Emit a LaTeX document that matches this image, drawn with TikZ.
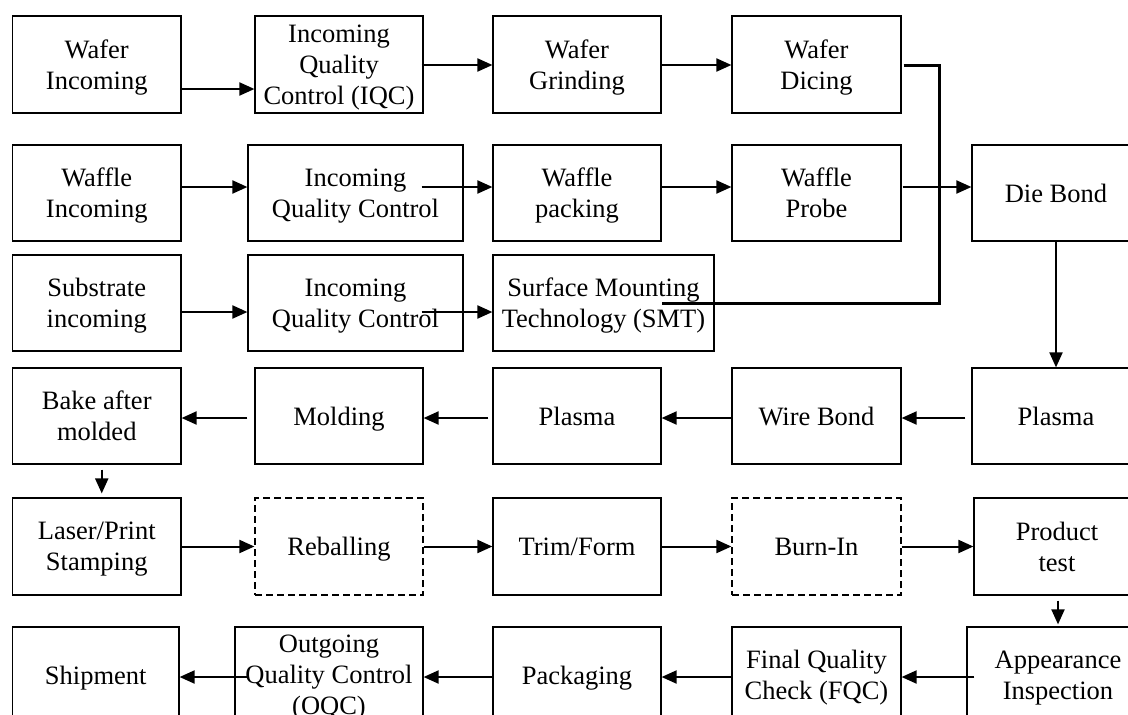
\documentclass[tikz,border=0pt]{standalone}
\usepackage{fontspec}
\setmainfont{Liberation Serif}
\usetikzlibrary{arrows.meta,calc}

% \flowbox[style]{name}{left}{top}{right}{bottom}{text}
\newcommand\flowbox[7][]{%
  \node[box,#1,minimum width={#5-#3},minimum height={#6-#4}] (#2)
    at ({(#3+#5)/2},{(#4+#6)/2}) {#7};}

\begin{document}
\begin{tikzpicture}[x=1pt,y=-1pt,
  box/.style={draw,line width=1.2pt,inner sep=0pt,align=center,
              text depth=-3pt,
              font=\fontsize{26.5}{31}\selectfont},
  optional/.style={dash pattern=on 7pt off 4pt},
  arr/.style={line width=2pt,-{Triangle[length=15pt,width=13pt]}},
  link/.style={line width=3pt}]
\useasboundingbox (0,0) rectangle (1128,715);
\fill[white] (0,0) rectangle (1128,715);
\clip (0,0) rectangle (1128,715);

% row 1
\flowbox{w1}{12.5}{16}{181}{113}{Wafer\\Incoming}
\flowbox{iqc1}{255}{16}{423}{113}{Incoming\\Quality\\Control (IQC)}
\flowbox{grind}{493}{16}{661}{113}{Wafer\\Grinding}
\flowbox{dice}{732}{16}{901}{113}{Wafer\\Dicing}
% row 2
\flowbox{wi2}{12.5}{145}{181}{241}{Waffle\\Incoming}
\flowbox{iqc2}{248}{145}{463}{241}{Incoming\\Quality Control}
\flowbox{pack}{493}{145}{661}{241}{Waffle\\packing}
\flowbox{probe}{732}{145}{901}{241}{Waffle\\Probe}
\flowbox{die}{972}{145}{1140}{241}{Die Bond}
% row 3
\flowbox{sub}{12.5}{255}{181}{351}{Substrate\\incoming}
\flowbox{iqc3}{248}{255}{463}{351}{Incoming\\Quality Control}
\flowbox{smt}{493}{255}{714}{351}{Surface Mounting\\Technology (SMT)}
% row 4
\flowbox{bake}{12.5}{368}{181}{464}{Bake after\\molded}
\flowbox{mold}{255}{368}{423}{464}{Molding}
\flowbox{pl2}{493}{368}{661}{464}{Plasma}
\flowbox{wb}{732}{368}{901}{464}{Wire Bond}
\flowbox{pl1}{972}{368}{1140}{464}{Plasma}
% row 5
\flowbox{laser}{12.5}{498}{181}{595}{Laser/Print\\Stamping}
\flowbox[optional]{reb}{255}{498}{423}{595}{Reballing}
\flowbox{trim}{493}{498}{661}{595}{Trim/Form}
\flowbox[optional]{burn}{732}{498}{901}{595}{Burn-In}
\flowbox{prod}{974}{498}{1140}{595}{Product\\test}
% row 6
\flowbox{ship}{12.5}{627}{179}{723}{Shipment}
\flowbox{oqc}{235}{627}{423}{723}{Outgoing\\Quality Control\\(OQC)}
\flowbox{pkg}{493}{627}{661}{723}{Packaging}
\flowbox{fqc}{732}{627}{901}{723}{Final Quality\\Check (FQC)}
\flowbox{app}{967}{627}{1149}{723}{Appearance\\Inspection}

% row 1 flow
\draw[arr] ($(w1.east)+(0,24.5)$) -- ($(iqc1.west)+(0,24.5)$);
\draw[arr] ($(iqc1.east)+(-2,0.5)$) -- ($(grind.west)+(0,0.5)$);
\draw[arr] ($(grind.east)+(0,0.5)$) -- ($(dice.west)+(0,0.5)$);
\coordinate (bend) at (939,65);
\draw[link] ($(dice.east)+(2,0.5)$) -- (bend) |- ($(smt.east)+(-53,0)$);
% row 2 flow
\draw[arr] ($(wi2.east)+(0,-6)$) -- ($(iqc2.west)+(0,-6)$);
\draw[arr] ($(iqc2.east)+(-42,-6)$) -- ($(pack.west)+(0,-6)$);
\draw[arr] ($(pack.east)+(0,-6)$) -- ($(probe.west)+(0,-6)$);
\draw[arr] ($(probe.east)+(1,-6)$) -- ($(die.west)+(0,-6)$);
% row 3 flow
\draw[arr] ($(sub.east)+(0,9)$) -- ($(iqc3.west)+(0,9)$);
\draw[arr] ($(iqc3.east)+(-42,9)$) -- ($(smt.west)+(0,9)$);
% down to plasma, then back along row 4
\draw[arr] (die.south) -- (pl1.north);
\draw[arr] ($(pl1.west)+(-6,2)$) -- ($(wb.east)+(0,2)$);
\draw[arr] ($(wb.west)+(0,2)$) -- ($(pl2.east)+(0,2)$);
\draw[arr] ($(pl2.west)+(-4,2)$) -- ($(mold.east)+(0,2)$);
\draw[arr] ($(mold.west)+(-7,2)$) -- ($(bake.east)+(0,2)$);
\draw[arr] ($(bake.south)+(5,5)$) -- ($(laser.north)+(5,-4)$);
% row 5 flow
\draw[arr] (laser.east) -- (reb.west);
\draw[arr] (reb.east) -- (trim.west);
\draw[arr] (trim.east) -- (burn.west);
\draw[arr] (burn.east) -- (prod.west);
\draw[arr] ($(prod.south)+(1,5)$) -- ($(app.north)+(0,-2)$);
% row 6 flow
\draw[arr] ($(app.west)+(8,2)$) -- ($(fqc.east)+(0,2)$);
\draw[arr] ($(fqc.west)+(0,2)$) -- ($(pkg.east)+(0,2)$);
\draw[arr] ($(pkg.west)+(0,2)$) -- ($(oqc.east)+(0,2)$);
\draw[arr] ($(oqc.west)+(15,2)$) -- ($(ship.east)+(0,2)$);
\end{tikzpicture}
\end{document}
